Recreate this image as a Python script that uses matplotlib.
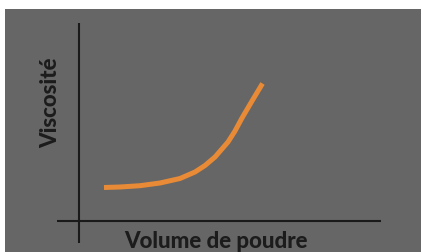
import matplotlib
matplotlib.use("Agg")
import matplotlib.pyplot as plt

# Curve data (arbitrary units: origin at the axes crossing)
volume = [2.5, 4.1, 6.1, 8.1, 10.1, 11.6, 12.6, 13.6, 14.9, 15.6, 16.3, 17.3, 18.35]
viscosite = [3.35, 3.4, 3.53, 3.8, 4.25, 4.9, 5.55, 6.4, 7.9, 9.0, 10.3, 12.0, 13.75]

x_label = "Volume de poudre"
y_label = "Viscosité"

W, H = 423, 253
fig = plt.figure(figsize=(W / 100, H / 100), dpi=100)
fig.patch.set_facecolor("white")

# gray panel: x 5..421 px, y 10..253 px
ax = fig.add_axes([5 / W, 0, 416 / W, 243 / H])
ax.set_facecolor("#666666")
ax.set_xlim(-7.4, 34.2)
ax.set_ylim(-3.1, 21.2)
for s in ax.spines.values():
    s.set_visible(False)
ax.set_xticks([])
ax.set_yticks([])

axis_col = "#1a1a1a"
ax.plot([0, 0], [-2.2, 19.8], color=axis_col, lw=1.5, solid_capstyle="butt")
ax.plot([-2.2, 30.2], [0, 0], color=axis_col, lw=1.5, solid_capstyle="butt")

ax.plot(volume, viscosite, color="#E98B36", lw=3.6, solid_capstyle="butt",
        solid_joinstyle="round")

fkw = dict(fontsize=16, fontweight="black", family=["Lato", "DejaVu Sans"],
           color="#1c1c1c")
ax.text(13.7, -1.95, x_label, ha="center", va="center", **fkw)
ax.text(-2.8, 11.9, y_label, ha="center", va="center", rotation=90, **fkw)

fig.savefig("out.png", dpi=100, facecolor="white")
